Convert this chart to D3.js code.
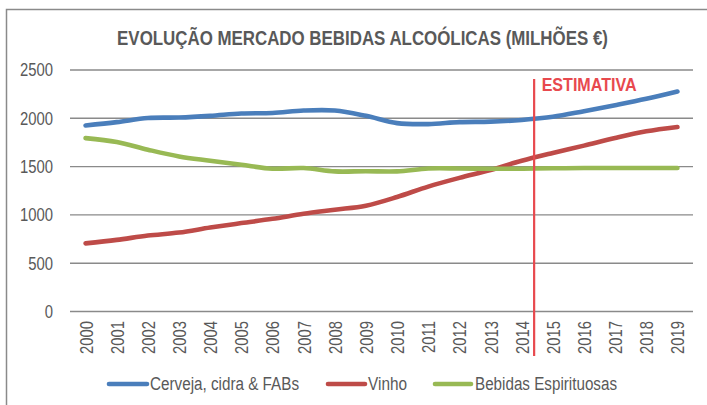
<!DOCTYPE html>
<html><head><meta charset="utf-8">
<script src="https://cdn.jsdelivr.net/npm/d3@7"></script>
<style>
body{margin:0;background:#fff}
svg{display:block}
text{font-family:"Liberation Sans",Arial,sans-serif}
</style>
</head><body>
<svg id="c" width="707" height="405"></svg>
<script>
const years = ["2000","2001","2002","2003","2004","2005","2006","2007","2008","2009","2010","2011","2012","2013","2014","2015","2016","2017","2018","2019"];
const cerveja = [1920,1955,1998,2003,2020,2045,2050,2075,2075,2020,1945,1935,1955,1960,1978,2010,2068,2130,2196,2272];
const vinho = [700,736,781,812,864,910,954,1006,1048,1090,1180,1288,1378,1460,1555,1636,1712,1791,1860,1905];
const espirituosas = [1790,1750,1670,1600,1556,1514,1473,1480,1445,1447,1445,1475,1475,1473,1473,1477,1480,1480,1480,1480];
const yTicks = [0,500,1000,1500,2000,2500];
const seriesNames = ["Cerveja, cidra & FABs","Vinho","Bebidas Espirituosas"];
const seriesColors = ["#4A7EBB","#BE4B48","#98B954"];
const title = "EVOLUÇÃO MERCADO BEBIDAS ALCOÓLICAS (MILHÕES €)";
const estimateLabel = "ESTIMATIVA";
const estimateAfter = "2014";

const svg = d3.select("#c");
const textColor = "#595959";
const gridColor = "#8a8a8a";
const L = 70, R = 693, T = 69.5, B = 311;

// border
svg.append("rect").attr("x",6.5).attr("y",9.5).attr("width",760).attr("height",460)
  .attr("fill","#fff").attr("stroke","#8a8a8a").attr("stroke-width",1.5);

// title (scaled horizontally to match the condensed font width)
const tg = svg.append("g");
const tt = tg.append("text").attr("x",0).attr("y",0).attr("text-anchor","middle")
  .attr("font-size",21).attr("font-weight","bold").attr("fill",textColor).text(title);
const tw = tt.node().getComputedTextLength();
tg.attr("transform",`translate(362.5,45) scale(${491/tw},1)`);

const x = d3.scalePoint().domain(years).range([L,R]).padding(0.5);
const y = d3.scaleLinear().domain([0,2500]).range([B,T]);

// measure ratio for narrow font
const probe = svg.append("text").attr("font-size",18).text("2500");
const narrow = 33 / probe.node().getComputedTextLength();
probe.remove();
function squeeze(sel){
  sel.each(function(){
    const w = this.getComputedTextLength();
    d3.select(this).attr("textLength", w*narrow).attr("lengthAdjust","spacingAndGlyphs");
  });
}

// y axis with gridlines
const ya = svg.append("g").attr("transform",`translate(${L},0)`)
  .call(d3.axisLeft(y).tickValues(yTicks).tickSize(-(R-L)).tickPadding(17).tickFormat(d3.format("d")));
ya.select(".domain").remove();
ya.selectAll("line").attr("stroke",gridColor).attr("stroke-width",1.4);
ya.selectAll("text").attr("font-size",18).attr("fill",textColor)
  .attr("font-family","'Liberation Sans',Arial,sans-serif").attr("dy","0.35em").call(squeeze);

// x axis
const xa = svg.append("g").attr("transform",`translate(0,${B})`)
  .call(d3.axisBottom(x).tickSize(0));
xa.select(".domain").remove();
xa.selectAll("text").attr("font-size",18).attr("fill",textColor)
  .attr("font-family","'Liberation Sans',Arial,sans-serif")
  .attr("transform","rotate(-90)").attr("x",-10).attr("y",0).attr("dy","0.36em")
  .attr("text-anchor","end").call(squeeze);

// lines
const seriesData = [cerveja, vinho, espirituosas];
const line = d3.line().x((d,i)=>x(years[i])).y(d=>y(d)).curve(d3.curveCatmullRom.alpha(0.5));
svg.append("g").selectAll("path").data(seriesData).join("path")
  .attr("d",line).attr("fill","none")
  .attr("stroke",(d,i)=>seriesColors[i]).attr("stroke-width",4.6)
  .attr("stroke-linecap","round").attr("stroke-linejoin","round");

// estimate marker
const ex = x(estimateAfter) + 0.4*x.step();
const red = "#E8494E";
svg.append("line").attr("x1",ex).attr("x2",ex).attr("y1",79).attr("y2",356)
  .attr("stroke",red).attr("stroke-width",2.2);
svg.append("text").attr("x",ex+7.5).attr("y",91).attr("font-size",18).attr("font-weight","bold")
  .attr("fill",red).attr("textLength",95).attr("lengthAdjust","spacingAndGlyphs").text(estimateLabel);

// legend
const legendPos = [{x1:107,x2:149,tx:150,w:149},{x1:326,x2:367,tx:368,w:39},{x1:433,x2:473,tx:475,w:142}];
const lg = svg.append("g");
seriesNames.forEach((name,i)=>{
  const p = legendPos[i];
  lg.append("line").attr("x1",p.x1+2).attr("x2",p.x2-2).attr("y1",384).attr("y2",384)
    .attr("stroke",seriesColors[i]).attr("stroke-width",4.6).attr("stroke-linecap","round");
  lg.append("text").attr("x",p.tx).attr("y",384).attr("dy","0.35em").attr("font-size",18)
    .attr("fill",textColor).attr("textLength",p.w).attr("lengthAdjust","spacingAndGlyphs").text(name);
});
</script>
</body></html>
